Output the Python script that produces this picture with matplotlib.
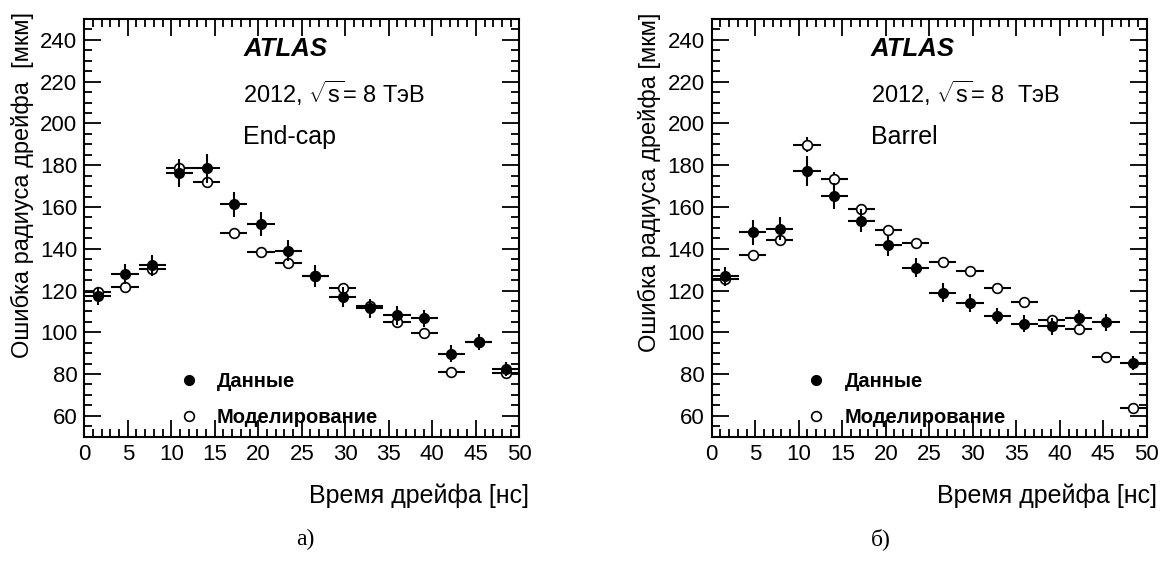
import numpy as np
import matplotlib
matplotlib.use('Agg')
import matplotlib.pyplot as plt
from matplotlib.lines import Line2D
from matplotlib.ticker import MultipleLocator

plt.rcParams['font.family'] = ['Liberation Sans', 'DejaVu Sans']
plt.rcParams['mathtext.fontset'] = 'custom'
plt.rcParams['mathtext.rm'] = 'Liberation Sans'
plt.rcParams['mathtext.it'] = 'Liberation Sans:italic'

# drift time bins [ns], 16 bins of 3.125 ns
drift_time = [1.5625, 4.6875, 7.8125, 10.9375, 14.0625, 17.1875, 20.3125, 23.4375,
              26.5625, 29.6875, 32.8125, 35.9375, 39.0625, 42.1875, 45.3125, 48.4375]
bin_half = 1.5625

# end-cap
endcap_data = [117.3, 127.8, 132.1, 176.2, 178.6, 161.2, 152.0, 139.0,
               127.0, 117.0, 111.4, 108.1, 106.7, 89.8, 95.3, 82.4]
endcap_data_err = [4.0, 4.8, 5.0, 6.8, 7.0, 6.2, 5.8, 5.0,
                   5.2, 4.8, 4.4, 4.4, 4.0, 4.0, 3.8, 3.2]
endcap_mc = [119.4, 121.7, 130.5, 178.6, 171.9, 147.5, 138.5, 133.4,
             127.0, 121.0, 112.5, 104.7, 99.8, 81.2, 95.3, 80.7]
endcap_mc_err = [1.5, 1.5, 2.0, 3.0, 3.0, 2.0, 1.5, 1.5,
                 1.5, 1.5, 1.5, 1.5, 1.5, 1.2, 1.2, 1.2]

# barrel
barrel_data = [126.8, 148.0, 149.6, 177.2, 165.2, 153.3, 141.6, 131.0,
               119.0, 113.8, 107.8, 104.2, 102.9, 106.9, 104.7, 85.3]
barrel_data_err = [4.5, 6.0, 5.5, 7.0, 6.2, 5.5, 5.0, 4.5,
                   4.5, 4.3, 4.0, 4.0, 4.0, 4.0, 4.0, 3.5]
barrel_mc = [125.7, 136.9, 144.4, 189.9, 173.5, 158.9, 149.1, 142.9,
             133.7, 129.2, 121.2, 114.5, 105.8, 101.5, 88.2, 63.8]
barrel_mc_err = [2.0, 1.5, 2.5, 3.5, 3.2, 2.7, 2.0, 1.5,
                 1.5, 1.5, 1.5, 1.5, 1.5, 1.5, 1.2, 1.2]

xlabel = 'Время дрейфа [нс]'
leg_labels = ['Данные', 'Моделирование']

FS = 16


def draw_panel(ax, data, data_err, mc, mc_err, region, energy, ylabel):
    ax.errorbar(drift_time, mc, xerr=bin_half, yerr=mc_err, fmt='o', ms=7,
                mfc='white', mec='black', mew=1.2, ecolor='black', elinewidth=1.5,
                capsize=0, zorder=3)
    ax.errorbar(drift_time, data, xerr=bin_half, yerr=data_err, fmt='o', ms=7,
                mfc='black', mec='black', ecolor='black', elinewidth=1.5,
                capsize=0, zorder=4)

    ax.set_xlim(0, 50)
    ax.set_ylim(50, 250)
    ax.xaxis.set_major_locator(MultipleLocator(5))
    ax.xaxis.set_minor_locator(MultipleLocator(1))
    ax.yaxis.set_minor_locator(MultipleLocator(5))
    ax.set_yticks(np.arange(60, 250, 20))
    ax.tick_params(which='both', direction='in', top=True, right=True,
                   labelsize=FS, width=1.3)
    ax.tick_params(which='major', length=12, pad=5)
    ax.tick_params(which='minor', length=6)
    for s in ax.spines.values():
        s.set_linewidth(1.5)

    ax.set_xlabel(xlabel, fontsize=18, loc='right')
    ax.xaxis.set_label_coords(1.023, -0.112)
    ax.set_ylabel(ylabel, fontsize=17, loc='top')
    ax.yaxis.set_label_coords(-0.116, 1.016)

    ax.text(0.366, 0.928, 'ATLAS', transform=ax.transAxes, fontsize=18.5,
            fontweight='bold', fontstyle='italic', va='center')
    ax.text(0.366, 0.823, energy, transform=ax.transAxes, fontsize=17, va='center')
    ax.text(0.366, 0.717, region, transform=ax.transAxes, fontsize=18, va='center')

    handles = [Line2D([], [], ls='none', marker='o', ms=7, mfc='black', mec='black'),
               Line2D([], [], ls='none', marker='o', ms=7, mfc='white', mec='black', mew=1.2)]
    ax.legend(handles, leg_labels, loc='lower left', bbox_to_anchor=(0.175, -0.02),
              frameon=False, handlelength=1.0, handletextpad=0.91, labelspacing=0.85,
              prop={'size': 14.5, 'weight': 'bold'})


fig = plt.figure(figsize=(11.67, 5.69), dpi=100)
ax1 = fig.add_axes([0.0722, 0.2325, 0.3728, 0.7341])
ax2 = fig.add_axes([0.6099, 0.2325, 0.3728, 0.7341])

draw_panel(ax1, endcap_data, endcap_data_err, endcap_mc, endcap_mc_err,
           'End-cap', r'2012, $\sqrt{\mathrm{s}}$= 8 ТэВ', 'Ошибка радиуса дрейфа  [мкм]')
draw_panel(ax2, barrel_data, barrel_data_err, barrel_mc, barrel_mc_err,
           'Barrel', r'2012, $\sqrt{\mathrm{s}}$= 8  ТэВ', 'Ошибка радиуса дрейфа [мкм]')

fig.text(0.262, 0.052, 'а)', fontsize=17, family='Liberation Serif', ha='center', va='center')
fig.text(0.755, 0.052, 'б)', fontsize=17, family='Liberation Serif', ha='center', va='center')

fig.savefig('out.png', dpi=100)
